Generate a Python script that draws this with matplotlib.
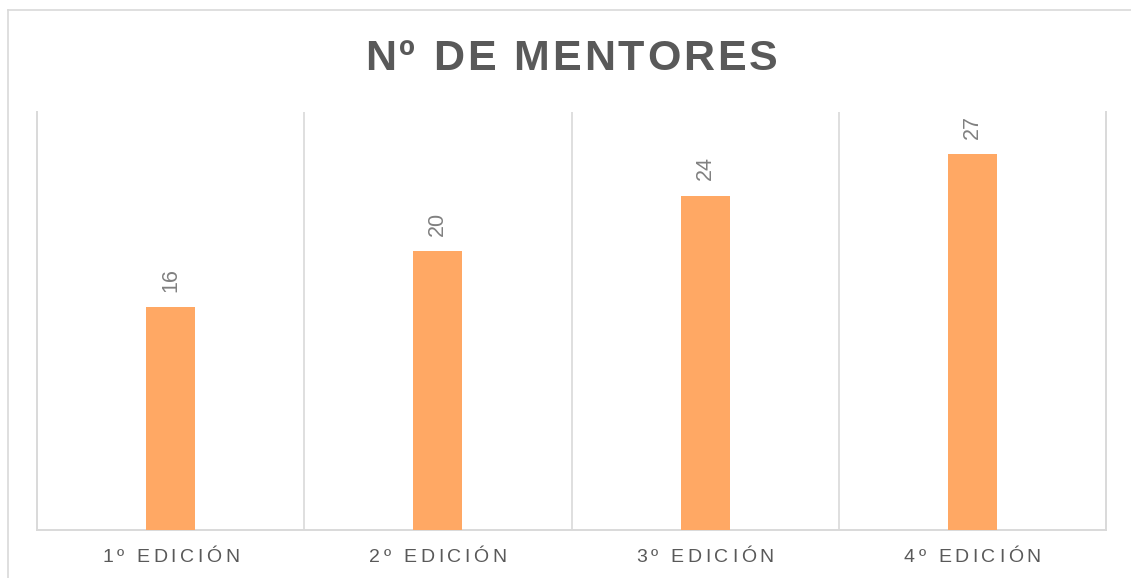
import matplotlib
matplotlib.use("Agg")
import matplotlib.pyplot as plt
from matplotlib.lines import Line2D

# datos
categorias = ["1º EDICIÓN", "2º EDICIÓN", "3º EDICIÓN", "4º EDICIÓN"]
mentores = [16, 20, 24, 27]
titulo = "Nº DE MENTORES"

W, H = 1131, 578
plt.rcParams['font.family'] = ['Liberation Sans', 'DejaVu Sans']

fig = plt.figure(figsize=(W / 100, H / 100), dpi=100)
ax = fig.add_axes([37 / W, (H - 530) / H, 1069 / W, (530 - 112) / H])

gris = "#D9D9D9"
naranja = "#FFA864"

x = list(range(len(categorias)))
ax.bar(x, mentores, width=0.183, color=naranja, zorder=3)
ax.set_xlim(-0.5, len(categorias) - 0.5)
ax.set_ylim(0, 30)

# separadores entre categorias
for b in range(1, len(categorias)):
    ax.axvline(b - 0.5, color=gris, lw=1.2, zorder=1)

for s in ["left", "right", "bottom"]:
    ax.spines[s].set_color(gris)
    ax.spines[s].set_linewidth(1.4)
ax.spines["top"].set_visible(False)
ax.set_xticks([])
ax.set_yticks([])

# etiquetas de datos
for i, v in zip(x, mentores):
    ax.annotate(str(v), (i, v), xytext=(0, 11), textcoords="offset points",
                rotation=90, ha="center", va="bottom", fontsize=15.5, color="#808080")

# borde del grafico (recortado a derecha y abajo)
fig.add_artist(Line2D([7.5 / W, 7.5 / W], [0, 1 - 9.5 / H], transform=fig.transFigure, color=gris, lw=1.2))
fig.add_artist(Line2D([7.5 / W, 1], [1 - 9.5 / H, 1 - 9.5 / H], transform=fig.transFigure, color=gris, lw=1.2))


def texto_espaciado(cx, base_y, s, gap, **kw):
    """texto centrado con espaciado entre letras (en pixeles)"""
    r = fig.canvas.get_renderer()

    def ancho(t):
        tt = fig.text(0, 0, t + "|", **kw)
        e = tt.get_window_extent(r).width
        tt.remove()
        return e

    barra = ancho("")
    offs = [ancho(s[:i]) - barra + i * gap for i in range(len(s))]
    total = ancho(s) - barra + gap * (len(s) - 1)
    x0 = cx - total / 2
    for ch, o in zip(s, offs):
        fig.text((x0 + o) / W, 1 - base_y / H, ch, ha="left", va="baseline", **kw)


texto_espaciado(571, 70, titulo, 3, fontsize=31, fontweight="bold", color="#595959")

ancho_cat = 1069 / len(categorias)
for i, c in enumerate(categorias):
    texto_espaciado(37 + ancho_cat * (i + 0.5), 562, c, 3.6, fontsize=14, color="#595959")

fig.savefig("out.png", dpi=100)
